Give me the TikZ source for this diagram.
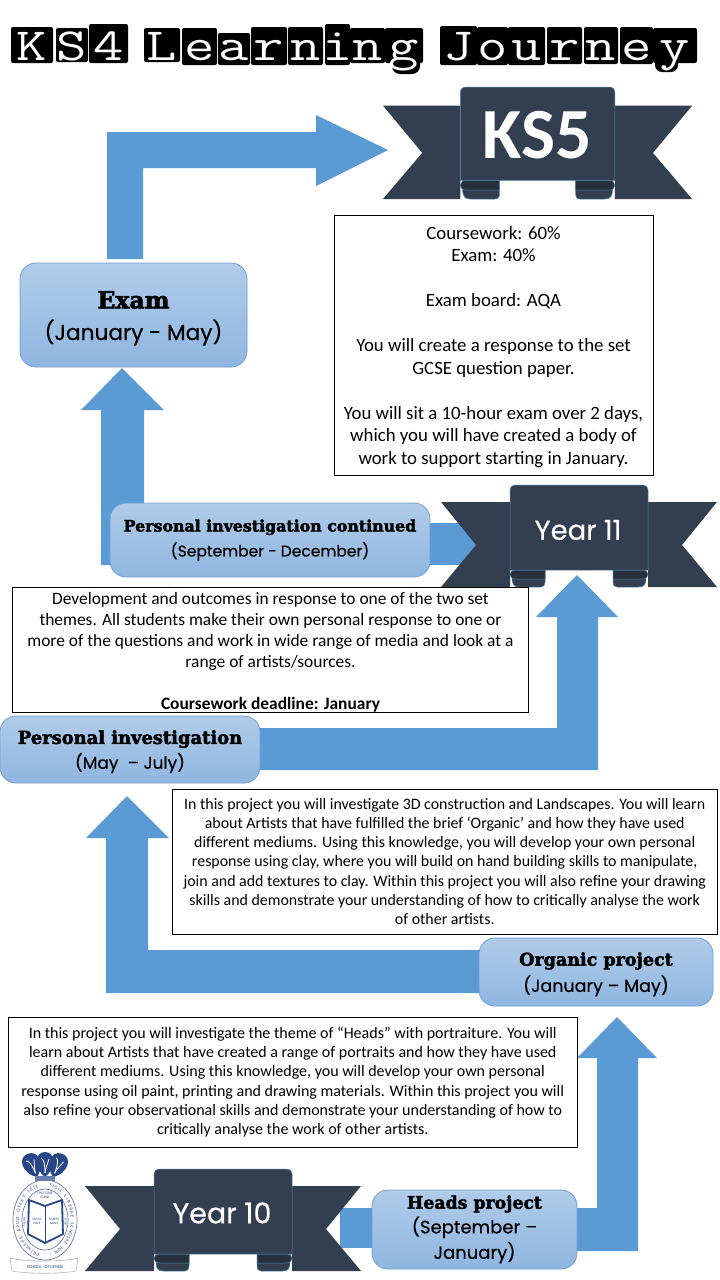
\documentclass[tikz,border=0pt]{standalone}
\usepackage{fontspec}
\setmainfont{Carlito}
\newfontfamily\headf[FakeBold=2.6]{DejaVu Serif Bold}
\newfontfamily\datef[FakeBold=0.4]{Poppins}
\definecolor{arrowblue}{RGB}{91,155,213}
\definecolor{ribbonc}{RGB}{51,63,80}
\definecolor{curlc}{RGB}{38,47,60}
\definecolor{ribline}{RGB}{84,130,170}
\definecolor{boxtop}{RGB}{177,203,233}
\definecolor{boxbot}{RGB}{143,182,225}
\definecolor{boxline}{RGB}{110,160,210}
\definecolor{crest}{RGB}{38,70,135}
\newcommand{\hd}[2]{{\headf\fontsize{#1}{#1}\selectfont #2}}
\newcommand{\dt}[2]{\datef\fontsize{#1}{#2}\selectfont}
\newcommand{\szz}[2]{\fontsize{#1}{#2}\selectfont}
\tikzset{
  x=1pt,y=-1pt,
  blockarrow/.style={fill=arrowblue,draw=none},
  stagebox/.style={rounded corners=16pt,top color=boxtop,bottom color=boxbot,draw=boxline,line width=0.8pt,inner sep=0pt,align=center,text=black},
  infobox/.style={draw=black,fill=white,line width=1pt,inner sep=0pt,align=center,text=black},
  titlech/.style={anchor=base,white,inner sep=0pt,font=\fontsize{46}{46}\selectfont\ttfamily\addfontfeature{FakeBold=1.2},xscale=1.28,transform shape},
  ribbonlabel/.style={white,inner sep=0pt,align=center},
  ringch/.style={inner sep=0pt,text=crest,font=\szz{4.8}{5}},
}
% #1 x, #2 y, #3 xscale, #4 yscale  (template 276 x 102)
\newcommand{\ribbonshape}[4]{%
\begin{scope}[shift={(#1,#2)},x=#3pt,y=-#4pt]
  \fill[ribbonc] (0,17) -- (69,17) -- (69,102) -- (0,102) -- (35,60) -- cycle;
  \fill[ribbonc] (276,17) -- (207,17) -- (207,102) -- (276,102) -- (241,60) -- cycle;
  \draw[ribline,line width=0.5pt,fill=ribbonc] (71,92) .. controls (71,100) and (73,102) .. (78,102) -- (100,102) .. controls (103,102) and (104,100) .. (104,97) -- (104,85) -- (71,85) -- cycle;
  \draw[ribline,line width=0.5pt,fill=ribbonc] (205,92) .. controls (205,100) and (203,102) .. (198,102) -- (176,102) .. controls (173,102) and (172,100) .. (172,97) -- (172,85) -- (205,85) -- cycle;
  \draw[ribline,line width=0.5pt,fill=curlc] (104,85) -- (74,85) .. controls (71,85) and (69,87) .. (69,89.5) .. controls (69,92) and (71,94) .. (75,94) -- (104,94) -- cycle;
  \draw[ribline,line width=0.5pt,fill=curlc] (172,85) -- (202,85) .. controls (205,85) and (207,87) .. (207,89.5) .. controls (207,92) and (205,94) .. (201,94) -- (172,94) -- cycle;
  \draw[ribline,line width=0.5pt,fill=ribbonc] (69,85) -- (69,5) .. controls (69,2) and (71,0) .. (74,0) -- (202,0) .. controls (205,0) and (207,2) .. (207,5) -- (207,85) -- cycle;
\end{scope}}
\begin{document}
\begin{tikzpicture}
\useasboundingbox (0,0) rectangle (720,1280);
\fill[white] (0,0) rectangle (720,1280);

% title tiles
\foreach \a/\b/\c/\d/\l/\n in {11/53/27/63/K/a,56/88/28/62/S/b,89/128/24/63/4/c,144/180/28/62/L/d,182/217/28/65/e/e,218/250/33/65/a/f,251/287/27/65/r/g,288/323/27/65/n/h,325/350/24/65/i/i,350/385/28/63/n/j,385/423/28/63/g/k,440/477/26/65/J/l,477/508/27/65/o/m,508/545/27/65/u/n,547/582/27/64/r/o,584/618/27/64/n/p,620/653/27/64/e/q,653/697/28/63/y/r}{
  \fill[black,rounded corners=2pt] (\a,\c) rectangle (\b,\d);
}
\fill[black,rounded corners=8pt] (392,55) rectangle (420,74);
\fill[black,rounded corners=7pt] (655,55) rectangle (678,72);
\foreach \a/\b/\l/\n in {11/53/K/a,56/88/S/b,89/128/4/c,144/180/L/d,182/217/e/e,218/250/a/f,251/287/r/g,288/323/n/h,325/350/i/i,350/385/n/j,385/423/g/k,440/477/J/l,477/508/o/m,508/545/u/n,547/582/r/o,584/618/n/p,620/653/e/q,653/697/y/r}{
  \node[titlech] (t\n) at ({(\a+\b)/2},60) {\l};
}

% block arrows
\fill[blockarrow] (107,259) -- (107,132) -- (316,132) -- (316,115) -- (388,150) -- (316,186) -- (316,168) -- (143,168) -- (143,259) -- cycle;
\fill[blockarrow] (101,565) -- (101,410) -- (81,410) -- (122,368) -- (164,410) -- (144,410) -- (144,565) -- cycle;
\fill[blockarrow] (425,523) rectangle (490,565);
\fill[blockarrow] (255,728) -- (557,728) -- (557,617) -- (536,617) -- (577,575) -- (618,617) -- (598,617) -- (598,770) -- (255,770) -- cycle;
\fill[blockarrow] (485,950) -- (148,950) -- (148,838) -- (169,838) -- (127,796) -- (86,838) -- (106,838) -- (106,993) -- (485,993) -- cycle;
\fill[blockarrow] (340,1208) rectangle (380,1248);
\fill[blockarrow] (570,1208) -- (597,1208) -- (597,1058) -- (577,1058) -- (617,1017) -- (657,1058) -- (638,1058) -- (638,1251) -- (570,1251) -- cycle;

% ribbons
\ribbonshape{383}{87}{1.12}{1.098}
\ribbonshape{441}{485}{1}{1}
\ribbonshape{85}{1169}{1}{1}
\node[ribbonlabel,font=\fontsize{72}{72}\selectfont\bfseries] (ks5) at (537,135) {KS5};
\node[ribbonlabel,font=\datef\fontsize{27.5}{27}\selectfont] (y11) at (578,530) {Year 11};
\node[ribbonlabel,font=\datef\fontsize{28.5}{27}\selectfont] (y10) at (222,1213) {Year 10};

% stage boxes
\node[stagebox,minimum width=227pt,minimum height=104pt] (exam) at (133.5,315) {\rule{0pt}{24pt}\hd{23.5}{Exam}\\[10pt]\dt{21.7}{25}(January - May)};
\node[stagebox,minimum width=320pt,minimum height=74pt] (picont) at (270,540) {\hd{15.8}{Personal investigation continued}\\[6pt]\dt{15.5}{20}(September - December)};
\node[stagebox,minimum width=260pt,minimum height=67pt] (pi) at (130,749.5) {\rule{0pt}{18pt}\hd{17.9}{Personal investigation}\\[4pt]\dt{17}{21}(May \ – July)};
\node[stagebox,minimum width=234pt,minimum height=68pt] (org) at (596,972) {\rule{0pt}{18pt}\hd{17.5}{Organic project}\\[5pt]\dt{17.5}{22}(January – May)};
\node[stagebox,minimum width=205pt,minimum height=79pt] (heads) at (474.5,1229.5) {\hd{17.3}{Heads project}\\[3pt]\dt{18}{25}(September –\\[3pt]\dt{18}{25}January)};

% info boxes
\node[infobox,minimum width=319pt,minimum height=260pt,font=\szz{18.8}{22.5}] (ks5info) at (493.5,345) {\rule{0pt}{17pt}Coursework: 60\%\\Exam: 40\%\\[22.5pt]Exam board: AQA\\[22.5pt]You will create a response to the set\\GCSE question paper.\\[22.5pt]You will sit a 10-hour exam over 2 days,\\which you will have created a body of\\work to support starting in January.};
\node[infobox,minimum width=516pt,minimum height=120pt,font=\szz{17.4}{21}] (devinfo) at (270.5,650) {\rule{0pt}{17pt}Development and outcomes in response to one of the two set\\themes. All students make their own personal response to one or\\more of the questions and work in wide range of media and look at a\\range of artists/sources.\\[21pt]\textbf{Coursework deadline: January}};
\node[infobox,minimum width=544.5pt,minimum height=145pt,font=\szz{15.9}{19.2}] (orginfo) at (444.75,861.5) {In this project you will investigate 3D construction and Landscapes. You will learn\\about Artists that have fulfilled the brief ‘Organic’ and how they have used\\different mediums. Using this knowledge, you will develop your own personal\\response using clay, where you will build on hand building skills to manipulate,\\join and add textures to clay. Within this project you will also refine your drawing\\skills and demonstrate your understanding of how to critically analyse the work\\of other artists.};
\node[infobox,minimum width=568.5pt,minimum height=130pt,font=\szz{16}{19.2}] (headsinfo) at (292.75,1082) {In this project you will investigate the theme of “Heads” with portraiture.  You will\\learn about Artists that have created a range of portraits and how they have used\\different mediums. Using this knowledge, you will develop your own personal\\response using oil paint, printing and drawing materials. Within this project you will\\also refine your observational skills and demonstrate your understanding of how to\\critically analyse the work of other artists.};

% crest
\draw[crest!70,line width=0.7pt] (45,1180) .. controls (63,1180) and (77,1198) .. (77,1220) .. controls (77,1242) and (63,1260) .. (45,1260) .. controls (27,1260) and (13,1242) .. (13,1220) .. controls (13,1198) and (27,1180) .. (45,1180) -- cycle;
\draw[crest!70,line width=0.7pt] (45,1189) .. controls (58,1189) and (68,1204) .. (68,1220) .. controls (68,1236) and (58,1250) .. (45,1250) .. controls (32,1250) and (22,1236) .. (22,1220) .. controls (22,1204) and (32,1189) .. (45,1189) -- cycle;
\foreach \ch [count=\i] in {P,R,I,N,C,E,P,S,{},A,P,U,D,{},O,T,L,E,Y,{},1,6,1,1}{
  \pgfmathsetmacro{\ang}{255-(\i-1)*6.4}
  \node[ringch,rotate=\ang-90] (ra\i) at ({45+27.5*cos(\ang)},{1220-35.5*sin(\ang)}) {\ch};
}
\foreach \ch [count=\i] in {S,I,G,I,L,{},L,I,B,E,R,A,E,{},S,C,H,O,L,A,E,{},H,E,N,{},:}{
  \pgfmathsetmacro{\ang}{78-(\i-1)*6.0}
  \node[ringch,rotate=\ang-90] (rb\i) at ({45+27.5*cos(\ang)},{1220-35.5*sin(\ang)}) {\ch};
}
% plumes
\foreach \px/\py/\w/\r in {37/1163/12/22,53/1163/12/-22,45/1163/11/0}{
  \begin{scope}[rotate around={\r:(\px,\py+14)}]
  \fill[crest] (\px,\py-11) .. controls ({\px+\w},\py-11) and ({\px+\w},\py+6) .. (\px,\py+14) .. controls ({\px-\w},\py+6) and ({\px-\w},\py-11) .. (\px,\py-11) -- cycle;
  \draw[white,line width=0.8pt] (\px-4,\py-5) .. controls (\px-1,\py-4) and (\px,\py+2) .. (\px,\py+10);
  \draw[white,line width=0.8pt] (\px+4,\py-4) .. controls (\px+3,\py) and (\px+1,\py+3) .. (\px,\py+10);
  \end{scope}
}
\fill[crest!70] (35,1176) rectangle (55,1181);
% book
\draw[crest,line width=1.8pt,fill=white,line join=round] (29,1200) -- (45,1206) -- (62,1200) -- (63,1234) -- (45,1243) -- (28,1234) -- cycle;
\draw[crest,line width=0.8pt] (45,1206) -- (45,1243);
\node[inner sep=0pt,align=center,font=\szz{3.4}{4},text=crest] (motto1) at (37,1221) {DEUM\\PAVE};
\node[inner sep=0pt,align=center,font=\szz{3.4}{4},text=crest] (motto2) at (54,1221) {TIMETE\\GANS};
\node[inner sep=0pt,align=center,font=\szz{3.8}{4.4},text=crest] (tho) at (45,1195) {THO CAVE\\FUND};
\node[inner sep=0pt,rotate=90,font=\szz{3}{3},text=crest] (palma) at (24.5,1222) {PALMA};
\node[inner sep=0pt,rotate=-90,font=\szz{3}{3},text=crest] (spina) at (65.5,1222) {SPINA};
% banner
\draw[gray!60,line width=0.6pt,fill=white] (10,1258) .. controls (25,1262) and (65,1262) .. (78,1258) -- (76,1271) .. controls (60,1274) and (28,1274) .. (12,1271) -- cycle;
\node[inner sep=0pt,font=\szz{4.5}{5},text=crest] (schola) at (45,1267) {SCHOLA · OTLIENSIS};
\end{tikzpicture}
\end{document}
